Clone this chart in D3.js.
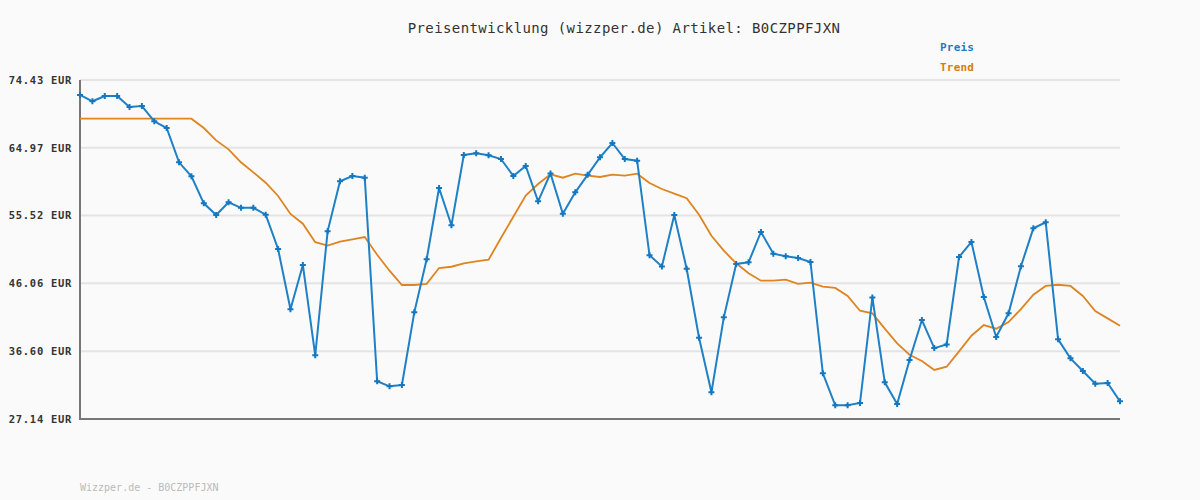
<!DOCTYPE html>
<html>
<head>
<meta charset="utf-8">
<script src="https://cdn.jsdelivr.net/npm/d3@7"></script>
<style>
    body { margin: 0; background: #fafafa; }
    svg { display: block; }
    text { font-family: "DejaVu Sans Mono", monospace; }
</style>
</head>
<body>
<div id="chart"></div>
<script>
// price readings, one per step
var preis = [72.34, 71.46, 72.2, 72.2, 70.66, 70.8, 68.67, 67.73, 62.95, 61.0,
    57.23, 55.6, 57.37, 56.6, 56.6, 55.64, 50.85, 42.44, 48.62, 36.03,
    53.32, 60.3, 61.04, 60.8, 32.4, 31.7, 31.88, 42.02, 49.42, 59.36,
    54.16, 63.97, 64.2, 63.93, 63.41, 61.04, 62.43, 57.5, 61.4, 55.78,
    58.76, 61.2, 63.64, 65.64, 63.41, 63.18, 49.97, 48.42, 55.6, 48.1,
    38.48, 30.86, 41.32, 48.76, 49.0, 53.23, 50.2, 49.83, 49.6, 49.04,
    33.52, 29.05, 29.05, 29.37, 44.1, 32.26, 29.23, 35.36, 40.94, 37.03,
    37.54, 49.74, 51.84, 44.16, 38.58, 41.88, 48.44, 53.74, 54.58, 38.25,
    35.6, 33.83, 32.06, 32.16, 29.6];

var trend = [69.03, 69.03, 69.03, 69.03, 69.03, 69.03, 69.03, 69.03, 69.03, 69.03,
    67.73, 66.0, 64.76, 62.95, 61.55, 60.1, 58.25, 55.74, 54.38, 51.8,
    51.32, 51.88, 52.2, 52.53, 50.06, 47.83, 45.83, 45.83, 46.0, 48.2,
    48.38, 48.86, 49.14, 49.36, 52.39, 55.36, 58.3, 59.92, 61.27, 60.8,
    61.36, 61.08, 60.9, 61.22, 61.08, 61.36, 60.06, 59.22, 58.57, 57.93,
    55.64, 52.71, 50.62, 48.86, 47.47, 46.43, 46.43, 46.57, 46.0, 46.15,
    45.6, 45.42, 44.3, 42.24, 41.88, 39.74, 37.7, 36.11, 35.23, 33.98,
    34.43, 36.58, 38.76, 40.25, 39.74, 40.67, 42.48, 44.48, 45.7, 45.87,
    45.7, 44.3, 42.2, 41.18, 40.16];

var yTicks = [27.14, 36.60, 46.06, 55.52, 64.97, 74.43];
var artikel = 'B0CZPPFJXN';

var width = 1200, height = 500;
var margin = {top: 80, right: 80, bottom: 81, left: 80};

var svg = d3.select('#chart')
    .append('svg')
    .attr('width', width)
    .attr('height', height);

svg.append('rect')
    .attr('width', width)
    .attr('height', height)
    .attr('fill', '#fafafa');

var x = d3.scaleLinear()
    .domain([0, preis.length - 1])
    .range([margin.left, width - margin.right]);

var y = d3.scaleLinear()
    .domain([yTicks[0], yTicks[yTicks.length - 1]])
    .range([height - margin.bottom, margin.top]);

// grid lines
svg.append('g')
    .selectAll('line')
    .data(yTicks)
    .enter()
    .append('line')
    .attr('x1', margin.left)
    .attr('x2', width - margin.right)
    .attr('y1', function(d) { return y(d); })
    .attr('y2', function(d) { return y(d); })
    .attr('stroke', '#e4e4e4')
    .attr('stroke-width', 2);

// y labels
var yAxis = d3.axisLeft(y)
    .tickValues(yTicks)
    .tickSize(0)
    .tickPadding(8)
    .tickFormat(function(d) { return d.toFixed(2) + ' EUR'; });

var yg = svg.append('g')
    .attr('transform', 'translate(' + margin.left + ',0)')
    .call(yAxis);
yg.select('.domain').remove();
yg.selectAll('text')
    .attr('font-family', '"DejaVu Sans Mono", monospace')
    .attr('font-size', 10.5)
    .attr('font-weight', 'bold')
    .attr('letter-spacing', 0.7)
    .attr('fill', '#333');

// axis lines
svg.append('line')
    .attr('x1', margin.left).attr('x2', margin.left)
    .attr('y1', y(yTicks[yTicks.length - 1])).attr('y2', y(yTicks[0]))
    .attr('stroke', '#777').attr('stroke-width', 2);
svg.append('line')
    .attr('x1', margin.left - 1).attr('x2', width - margin.right)
    .attr('y1', y(yTicks[0])).attr('y2', y(yTicks[0]))
    .attr('stroke', '#777').attr('stroke-width', 2);

var line = d3.line()
    .x(function(d, i) { return x(i); })
    .y(function(d) { return y(d); });

svg.append('path')
    .datum(trend)
    .attr('d', line)
    .attr('fill', 'none')
    .attr('stroke', '#de8420')
    .attr('stroke-width', 1.8);

svg.append('path')
    .datum(preis)
    .attr('d', line)
    .attr('fill', 'none')
    .attr('stroke', '#1f80c6')
    .attr('stroke-width', 2);

svg.append('g')
    .selectAll('path')
    .data(preis)
    .enter()
    .append('path')
    .attr('d', d3.symbol().type(d3.symbolCross).size(20))
    .attr('transform', function(d, i) { return 'translate(' + x(i) + ',' + y(d) + ')'; })
    .attr('fill', '#1477c0');

// title
svg.append('text')
    .attr('x', 624)
    .attr('y', 33)
    .attr('text-anchor', 'middle')
    .attr('font-size', 14)
    .attr('letter-spacing', 0.4)
    .attr('fill', '#333')
    .text('Preisentwicklung (wizzper.de) Artikel: ' + artikel);

// legend
svg.append('text')
    .attr('x', 940).attr('y', 51)
    .attr('font-size', 11)
    .attr('font-weight', 'bold')
    .attr('letter-spacing', 0.2)
    .attr('fill', '#1a7cc4')
    .text('Preis');
svg.append('text')
    .attr('x', 940).attr('y', 71)
    .attr('font-size', 11)
    .attr('font-weight', 'bold')
    .attr('letter-spacing', 0.2)
    .attr('fill', '#d97a0c')
    .text('Trend');

// footer
svg.append('text')
    .attr('x', 80).attr('y', 491)
    .attr('font-size', 10)
    .attr('fill', '#bbb')
    .text('Wizzper.de - ' + artikel);
</script>
</body>
</html>
